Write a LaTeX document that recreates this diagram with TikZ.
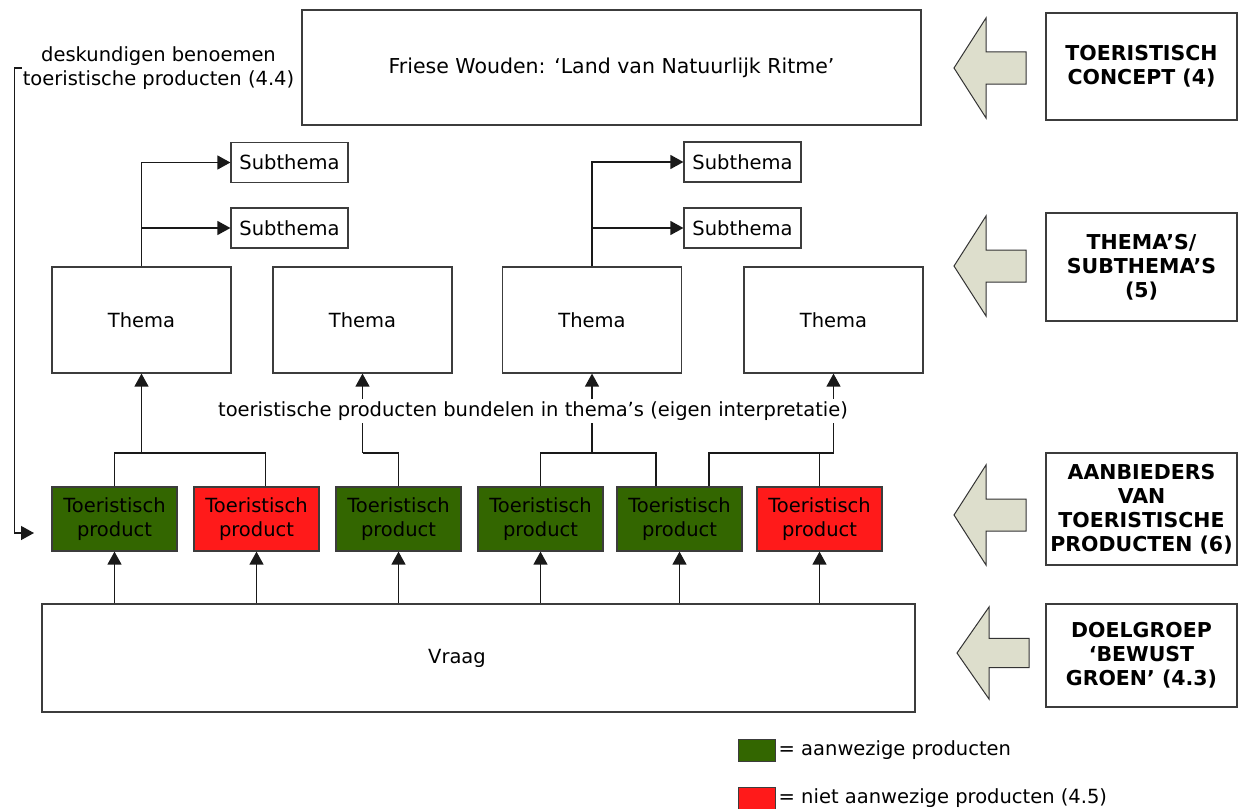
\documentclass[tikz,border=0pt]{standalone}
\usepackage{fontspec}
\setmainfont{DejaVu Sans}
\usetikzlibrary{arrows.meta}
\definecolor{prodgreen}{RGB}{51,102,0}
\definecolor{prodred}{RGB}{255,26,26}
\definecolor{arrowfill}{RGB}{221,222,204}
\definecolor{edgegray}{RGB}{60,60,60}
\begin{document}
\begin{tikzpicture}[x=1pt,y=-1pt,
  base/.style={font=\fontsize{19.5}{24}\selectfont},
  box/.style={draw=edgegray, line width=1.2pt, base, align=center, inner sep=0pt},
  prod/.style={box, minimum width=125pt, minimum height=64pt},
  present/.style={prod, fill=prodgreen},
  absent/.style={prod, fill=prodred},
  thema/.style={box, minimum width=179pt, minimum height=106pt},
  subthema/.style={box, minimum width=117pt, minimum height=40pt},
  tag/.style={box, font=\fontsize{20.5}{24}\selectfont\bfseries, minimum width=191pt},
  conn/.style={draw=black!90, line width=1.3pt},
  arr/.style={conn, -{Triangle[width=14pt,length=13pt]}},
  bigarr/.style={draw=black!80, line width=1pt, fill=arrowfill, line join=miter},
  leftarrow/.pic={\draw[bigarr] (0,0) -- (32,-50) -- (32,-16) -- (72,-16)
                   -- (72,16) -- (32,16) -- (32,50) -- cycle;},
]
\useasboundingbox (0,0) rectangle (1238,808);

% concept and themes
\node[box, font=\fontsize{20.5}{24}\selectfont, minimum width=619pt, minimum height=115pt] (concept) at (611.5,67.5)
  {Friese Wouden: `Land van Natuurlijk Ritme'};
\node[base, align=center, inner sep=1pt] (expert) at (158.5,68)
  {deskundigen benoemen\\toeristische producten (4.4)};

\node[thema] (t1) at (141.5,320) {Thema};
\node[thema] (t2) at (362.5,320) {Thema};
\node[thema] (t3) at (592,320) {Thema};
\node[thema] (t4) at (833.5,320) {Thema};

\node[subthema] (s1) at (289.5,162.5) {Subthema};
\node[subthema] (s2) at (289.5,228) {Subthema};
\node[subthema] (s3) at (742.5,162) {Subthema};
\node[subthema] (s4) at (742.5,228) {Subthema};

% products
\node[present] (p1) at (114.5,519) {Toeristisch\\product};
\node[absent]  (p2) at (256.5,519) {Toeristisch\\product};
\node[present] (p3) at (398.5,519) {Toeristisch\\product};
\node[present] (p4) at (540.5,519) {Toeristisch\\product};
\node[present] (p5) at (679.5,519) {Toeristisch\\product};
\node[absent]  (p6) at (819.5,519) {Toeristisch\\product};

\node[box, minimum width=873pt, minimum height=108pt] (vraag) at (478.5,658)
  {\hspace*{-43pt}Vraag};

% demand feeds the products
\foreach \p in {p1,p2,p3,p4,p5,p6}
  \draw[arr] (\p.south |- vraag.north) -- (\p.south);

% products bundled into themes
\coordinate (j1) at (141.5,453);
\coordinate (j2) at (362.5,453);
\coordinate (j3) at (592,453);
\coordinate (j4) at (833.5,453);
\draw[conn] (p1.north) |- (j1);
\draw[conn] ([xshift=9pt]p2.north) |- (j1);
\draw[arr] (j1) -- (t1.south);
\draw[conn] (p3.north) |- (j2);
\draw[arr] (j2) -- (t2.south);
\draw[conn] (p4.north) |- (j3);
\draw[conn] ([xshift=-23.5pt]p5.north) |- (j3);
\draw[arr] (j3) -- (t3.south);
\draw[conn] ([xshift=29.5pt]p5.north) |- (j4);
\draw[conn] (p6.north) |- (j4);
\draw[arr] (j4) -- (t4.south);

\node[base, fill=white, inner sep=3pt] (bundle) at (533,411)
  {toeristische producten bundelen in thema's (eigen interpretatie)};

% themes split into subthemes
\draw[arr] (t1.north) |- (s1.west);
\draw[arr] (t1.north) |- (s2.west);
\draw[arr] (t3.north) |- (s3.west);
\draw[arr] (t3.north) |- (s4.west);

% experts name the products
\coordinate (fb) at (34,533);
\draw[arr] (expert.west) -- ++(-7,0) |- (fb);

% levels on the right
\node[tag, minimum height=107pt] (lv1) at (1141.5,66.5) {TOERISTISCH\\CONCEPT (4)};
\node[tag, minimum height=108pt] (lv2) at (1141.5,267) {THEMA'S/\\SUBTHEMA'S\\(5)};
\node[tag, minimum height=112pt] (lv3) at (1141.5,509) {AANBIEDERS\\VAN\\TOERISTISCHE\\PRODUCTEN (6)};
\node[tag, minimum height=103pt] (lv4) at (1141.5,655.5) {DOELGROEP\\`BEWUST\\GROEN' (4.3)};

\pic at (954,68) {leftarrow};
\pic at (954,266) {leftarrow};
\pic at (954,515) {leftarrow};
\pic[yscale=0.92] at (957,653) {leftarrow};

% legend
\node[draw=edgegray, line width=1pt, fill=prodgreen, minimum width=37pt, minimum height=22pt, inner sep=0pt] (leggreen) at (756.5,750) {};
\node[draw=edgegray, line width=1pt, fill=prodred, minimum width=37pt, minimum height=22pt, inner sep=0pt] (legred) at (756.5,798) {};
\node[base, anchor=west, inner sep=3pt] (legtxt1) at (leggreen.east) {= aanwezige producten};
\node[base, anchor=west, inner sep=3pt] (legtxt2) at (legred.east) {= niet aanwezige producten (4.5)};
\end{tikzpicture}
\end{document}
